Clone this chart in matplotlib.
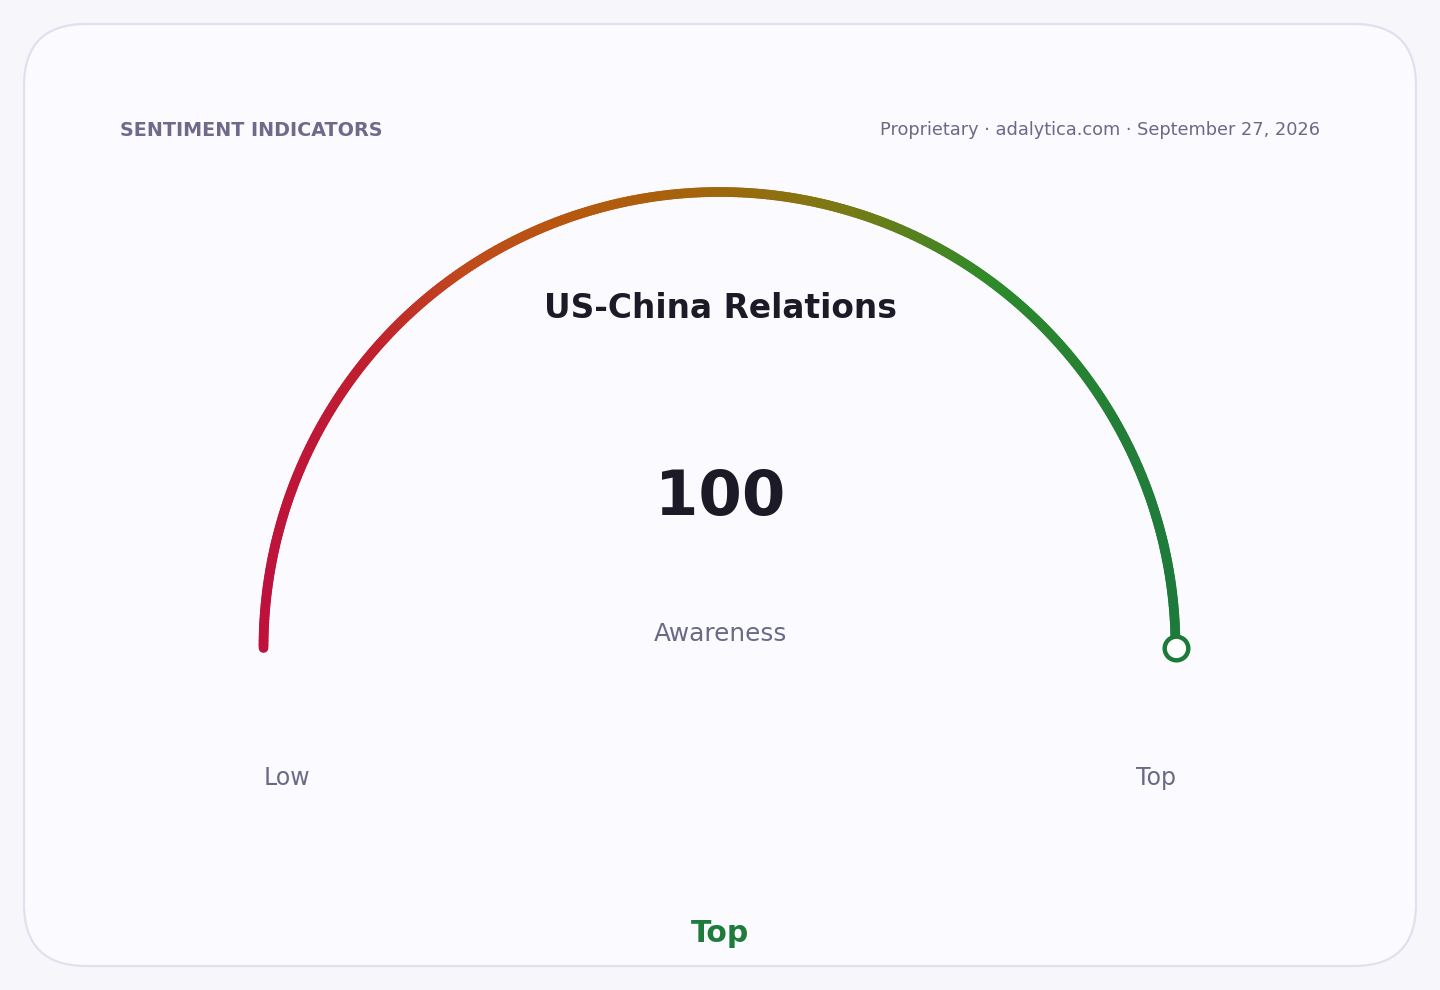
import numpy as np
import matplotlib.pyplot as plt
from matplotlib.collections import LineCollection
from matplotlib.colors import LinearSegmentedColormap
from matplotlib.patches import FancyBboxPatch

plt.rcParams['font.family'] = ['DejaVu Sans']

# data
title = "US-China Relations"
value = 100
v_min, v_max = 0, 100
metric = "Awareness"
range_labels = ["Low", "Top"]
status = "Top"
header_left = "SENTIMENT INDICATORS"
header_right = "Proprietary \u00b7 adalytica.com \u00b7 September 27, 2026"

W, H = 1440, 990
fig = plt.figure(figsize=(W / 100, H / 100), dpi=100, facecolor="#f7f7fb")
ax = fig.add_axes([0, 0, 1, 1])
ax.set_xlim(0, W)
ax.set_ylim(H, 0)
ax.axis("off")

# card
card = FancyBboxPatch((24, 24), 1392, 942, boxstyle="round,pad=0,rounding_size=62",
                      facecolor="#fafaff", edgecolor="#e1e1ee", linewidth=1.6)
ax.add_patch(card)

cx, cy, r = 719.5, 648, 456
grad = [(0, "#be123c"), (0.12, "#c0202e"), (0.22, "#c04a1c"), (0.36, "#b45a0c"),
        (0.5, "#a0660c"), (0.64, "#7a7a14"), (0.8, "#2e8a2a"), (1, "#1e7a3a")]
cmap = LinearSegmentedColormap.from_list("g", grad)

# gauge arc
frac = (value - v_min) / (v_max - v_min)
theta = np.linspace(np.pi, np.pi - np.pi * frac, 400)
xs = cx + r * np.cos(theta)
ys = cy - r * np.sin(theta)
pts = np.column_stack([xs, ys]).reshape(-1, 1, 2)
segs = np.concatenate([pts[:-1], pts[1:]], axis=1)
lc = LineCollection(segs, colors=cmap((xs[:-1] - (cx - r)) / (2 * r)),
                    linewidths=7, capstyle="round")
ax.add_collection(lc)

# end marker
end_col = cmap((xs[-1] - (cx - r)) / (2 * r))
ax.plot(xs[-1], ys[-1], "o", markersize=17, markerfacecolor="white",
        markeredgecolor=end_col, markeredgewidth=3.2)

muted = "#6b6a86"
ax.text(120, 130, header_left, fontsize=13.8, fontweight="bold", color="#6e6a8a",
        ha="left", va="center")
ax.text(1320, 130, header_right, fontsize=12.8, color=muted, ha="right", va="center")

ax.text(720, 309, title, fontsize=23.7, fontweight="bold", color="#1b1a26",
        ha="center", va="center")
ax.text(720, 498, str(value), fontsize=45, fontweight="bold", color="#1b1a26",
        ha="center", va="center")
ax.text(720, 634, metric, fontsize=17.8, color=muted, ha="center", va="center")

ax.text(cx - r, 778, range_labels[0], fontsize=17, color=muted, ha="left", va="center")
ax.text(cx + r, 778, range_labels[1], fontsize=17, color=muted, ha="right", va="center")

ax.text(720, 933, status, fontsize=21.5, fontweight="bold", color="#1e7b3c",
        ha="center", va="center")

fig.savefig("out.png", dpi=100, facecolor=fig.get_facecolor())
